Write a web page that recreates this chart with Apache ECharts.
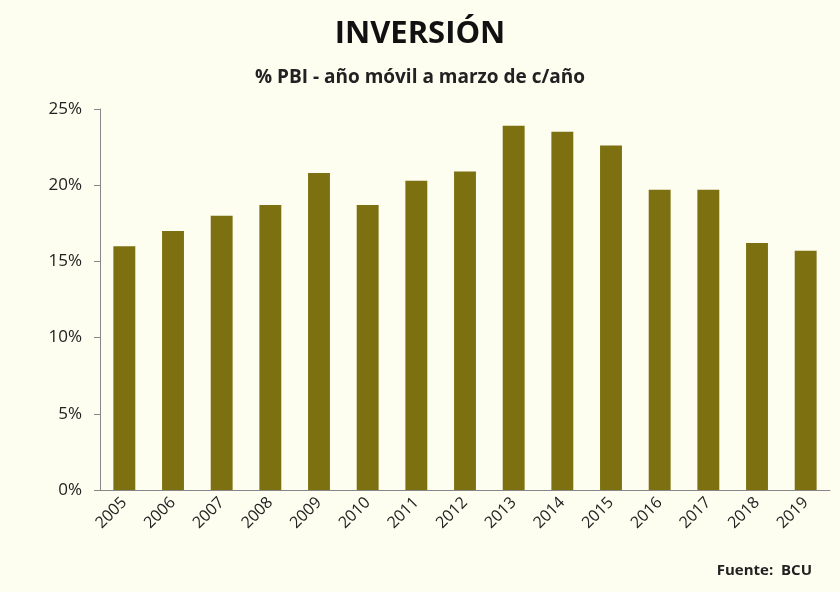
<!DOCTYPE html>
<html lang="es">
<head>
<meta charset="UTF-8">
<title>Inversión</title>
<script src="https://cdn.jsdelivr.net/npm/echarts@6/dist/echarts.min.js"></script>
<style>
  body { margin: 0; background: #fdfdf0; }
  #chart { width: 840px; height: 592px; }
</style>
</head>
<body>
<div id="chart"></div>
<script>
var years = ['2005','2006','2007','2008','2009','2010','2011','2012','2013','2014','2015','2016','2017','2018','2019'];
var inversion = [16.0, 17.0, 18.0, 18.7, 20.8, 18.7, 20.3, 20.9, 23.9, 23.5, 22.6, 19.7, 19.7, 16.2, 15.7];

var chart = echarts.init(document.getElementById('chart'));
chart.setOption({
    backgroundColor: '#fdfdf0',
    animation: false,
    title: {
        text: 'INVERSIÓN',
        subtext: '% PBI - año móvil a marzo de c/año',
        left: 'center',
        top: 14,
        itemGap: 18,
        textStyle: { fontFamily: 'Open Sans', fontSize: 31, fontWeight: 'bold', color: '#111' },
        subtextStyle: { fontFamily: 'Open Sans', fontSize: 19, fontWeight: 'bold', color: '#222' }
    },
    graphic: [{
        type: 'text', right: 28, bottom: 14,
        style: { text: 'Fuente:  BCU', font: 'bold 15px "Open Sans"', fill: '#222' }
    }],
    grid: { left: 100, right: 10, top: 109, bottom: 102 },
    xAxis: {
        type: 'category',
        data: years,
        axisLine: { lineStyle: { color: '#888' } },
        axisTick: { show: false },
        axisLabel: { rotate: 45, color: '#222', fontSize: 16, fontFamily: 'Open Sans', margin: 10 }
    },
    yAxis: {
        type: 'value',
        min: 0, max: 25, interval: 5,
        axisLine: { show: true, lineStyle: { color: '#888' } },
        axisTick: { show: true, length: 6, inside: false },
        splitLine: { show: false },
        axisLabel: { formatter: '{value}%', color: '#222', fontSize: 17, fontFamily: 'Open Sans', margin: 18 }
    },
    series: [{
        type: 'bar',
        data: inversion,
        barWidth: '45%',
        itemStyle: { color: '#7d7010' }
    }]
});
</script>
</body>
</html>
